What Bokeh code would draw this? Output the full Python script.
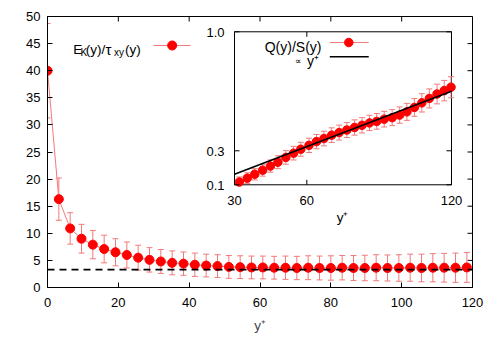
import math
import numpy as np
from bokeh.plotting import figure
from bokeh.models import Range1d, LogScale, FixedTicker, Span
from bokeh.core.properties import value
from bokeh.embed import file_html
from bokeh.resources import INLINE

FONT = "Liberation Sans"
RED = "#ff0000"
PINK = "#f27a7a"

# ---------------- data ----------------
main_x = [0.0, 3.2, 6.4, 9.6, 12.8, 16.0, 19.2, 22.4, 25.6, 28.8, 32.0, 35.2, 38.4,
          41.6, 44.8, 48.0, 51.2, 54.4, 57.6, 60.8, 64.0, 67.2, 70.4, 73.6, 76.8,
          80.0, 83.2, 86.4, 89.6, 92.8, 96.0, 99.2, 102.4, 105.6, 108.8, 112.0,
          115.2, 118.4]
main_y = [40.0, 16.3, 10.9, 9.0, 7.9, 7.1, 6.5, 6.0, 5.5, 5.1, 4.8, 4.55, 4.4, 4.2,
          4.05, 3.95, 3.8, 3.75, 3.7, 3.7, 3.65, 3.65, 3.6, 3.65, 3.6, 3.6, 3.65,
          3.6, 3.6, 3.65, 3.6, 3.6, 3.65, 3.6, 3.65, 3.65, 3.65, 3.7]
main_err = [8.7, 3.9, 2.9, 2.65, 2.6, 2.55, 2.5, 2.4, 2.3, 2.25, 2.2, 2.2, 2.15,
            2.15, 2.1, 2.1, 2.1, 2.1, 2.1, 2.1, 2.1, 2.15, 2.15, 2.2, 2.2, 2.25,
            2.25, 2.3, 2.35, 2.4, 2.4, 2.45, 2.5, 2.55, 2.6, 2.65, 2.7, 2.75]
dash_level = 3.3

inset_x = [28.8, 32.0, 35.3, 38.4, 41.7, 44.9, 48.0, 51.3, 54.5, 57.5, 60.9, 64.0,
           67.1, 70.3, 73.4, 76.6, 79.8, 82.9, 86.0, 89.0, 92.1, 95.4, 98.5, 101.5,
           104.6, 107.7, 110.8, 114.0, 117.0, 119.8]
inset_y = [0.091, 0.116, 0.139, 0.162, 0.186, 0.210, 0.233, 0.261, 0.286, 0.309,
           0.332, 0.354, 0.372, 0.392, 0.407, 0.422, 0.437, 0.450, 0.464, 0.473,
           0.486, 0.495, 0.510, 0.529, 0.555, 0.582, 0.608, 0.634, 0.654, 0.674]
inset_err = [0.028, 0.030, 0.032, 0.033, 0.035, 0.036, 0.038, 0.040, 0.040, 0.041,
             0.042, 0.042, 0.043, 0.043, 0.044, 0.044, 0.045, 0.045, 0.045, 0.046,
             0.046, 0.047, 0.048, 0.050, 0.052, 0.054, 0.056, 0.058, 0.060, 0.062]
fit_coef = 0.00542
fit_x = [30.0, 120.0]

x_ticks = [0, 20, 40, 60, 80, 100, 120]
y_ticks = [0, 5, 10, 15, 20, 25, 30, 35, 40, 45, 50]
inset_xticks = [30, 60, 120]
inset_xlabels = ["30", "60", "120"]
inset_yticks = [0.1, 0.3, 1.0]
inset_ylabels = ["0.1", "0.3", "1.0"]
inset_xlim = (30.0, 120.0)
inset_ylim = (0.1, 1.0)

main_label = ["E", "K", "(y)/", "\u03c4", "xy", "(y)"]
inset_label = "Q(y)/S(y)"

# ---------------- main figure ----------------
p = figure(width=498, height=348, x_range=Range1d(0, 120), y_range=Range1d(0, 50),
           output_backend="svg", toolbar_location=None,
           min_border_left=47, min_border_right=26, min_border_top=16,
           min_border_bottom=61)
p.grid.visible = False
p.outline_line_color = "black"
p.outline_line_width = 1
p.background_fill_color = "white"
p.border_fill_color = "white"

for ax in (p.xaxis[0], p.yaxis[0]):
    ax.major_tick_in = 5
    ax.major_tick_out = 0
    ax.minor_tick_line_color = None
    ax.axis_line_color = "black"
    ax.major_tick_line_color = "black"
    ax.major_label_text_font = FONT
    ax.major_label_text_color = "black"
    ax.major_label_text_font_size = "13px"

p.xaxis.ticker = FixedTicker(ticks=x_ticks)
p.yaxis.ticker = FixedTicker(ticks=y_ticks)
p.xaxis.major_label_standoff = 10
p.yaxis.major_label_standoff = 7
p.xaxis.axis_label = "y\u207a"
p.xaxis.axis_label_text_font = FONT
p.xaxis.axis_label_text_font_style = "normal"
p.xaxis.axis_label_text_font_size = "13.5px"
p.xaxis.axis_label_standoff = 8

# mirrored inward ticks on top and right edges
xmax, ymax = p.x_range.end, p.y_range.end
p.ray(x_ticks, [ymax] * len(x_ticks), length=5, angle=-math.pi / 2,
      length_units="screen", line_color="black", line_width=1)
p.ray([xmax] * len(y_ticks), y_ticks, length=5, angle=math.pi,
      length_units="screen", line_color="black", line_width=1)

# dashed level
p.add_layout(Span(location=dash_level, dimension="width", line_color="black",
                  line_width=1.6, line_dash="7 5"))

lo = [y - e for y, e in zip(main_y, main_err)]
hi = [y + e for y, e in zip(main_y, main_err)]
p.segment(main_x, lo, main_x, hi, line_color=PINK, line_width=1)
p.scatter(main_x, lo, marker="dash", size=6, line_color=PINK, line_width=1)
p.scatter(main_x, hi, marker="dash", size=6, line_color=PINK, line_width=1)
p.line(main_x, main_y, line_color=PINK, line_width=1)
p.scatter(main_x, main_y, size=9, fill_color=RED, line_color=RED)

# main legend (subscripts composed from pieces)
leg_x = [7.26, 9.32, 10.81, 16.38, 18.77, 21.88]
leg_y = [43.97, 43.36, 43.97, 43.97, 43.36, 43.97]
leg_fs = ["13.5px", "10px", "13.5px", "15px", "10px", "13.5px"]
for tx_, ty_, t_, fs_ in zip(leg_x, leg_y, main_label, leg_fs):
    p.text([tx_], [ty_], text=[t_], text_align="left", text_baseline="alphabetic",
           text_font=value(FONT), text_font_size=fs_, text_color="black")
p.line([29.9, 40.4], [44.65, 44.65], line_color=PINK, line_width=1)
p.scatter([35.2], [44.65], size=9, fill_color=RED, line_color=RED)

# ---------------- inset ----------------
tx = (52.80, 114.07)
ty = (18.95, 47.18)
p.quad(left=tx[0], right=tx[1], bottom=ty[0], top=ty[1], fill_color="white",
       line_color="black", line_width=1)

sub = p.subplot(x_source=Range1d(*inset_xlim), y_source=Range1d(*inset_ylim),
                x_scale=LogScale(), y_scale=LogScale(),
                x_target=Range1d(*tx), y_target=Range1d(*ty))


def clip_segments(xs, ys, xlim, ylim):
    lx0, lx1 = math.log10(xlim[0]), math.log10(xlim[1])
    ly0, ly1 = math.log10(ylim[0]), math.log10(ylim[1])
    out = []
    for i in range(len(xs) - 1):
        ax, ay = math.log10(xs[i]), math.log10(ys[i])
        bx, by = math.log10(xs[i + 1]), math.log10(ys[i + 1])
        dx, dy = bx - ax, by - ay
        t0, t1, ok = 0.0, 1.0, True
        for pp, q in ((-dx, ax - lx0), (dx, lx1 - ax), (-dy, ay - ly0), (dy, ly1 - ay)):
            if pp == 0:
                if q < 0:
                    ok = False
                    break
            else:
                t = q / pp
                if pp < 0:
                    t0 = max(t0, t)
                else:
                    t1 = min(t1, t)
        if ok and t0 <= t1:
            out.append((10 ** (ax + t0 * dx), 10 ** (ay + t0 * dy),
                        10 ** (ax + t1 * dx), 10 ** (ay + t1 * dy)))
    return out


ix = np.array(inset_x)
iy = np.array(inset_y)
ie = np.array(inset_err)
inside = (ix >= inset_xlim[0]) & (ix <= inset_xlim[1]) & (iy >= inset_ylim[0])
ilo_raw = iy - ie
ilo = np.maximum(ilo_raw, inset_ylim[0])
ihi = np.minimum(iy + ie, inset_ylim[1])

sub.segment(ix[inside], ilo[inside], ix[inside], ihi[inside], line_color=PINK, line_width=1)
cap_lo = inside & (ilo_raw >= inset_ylim[0])
sub.scatter(ix[cap_lo], ilo[cap_lo], marker="dash", size=6, line_color=PINK)
sub.scatter(ix[inside], ihi[inside], marker="dash", size=6, line_color=PINK)
segs = clip_segments(inset_x, inset_y, inset_xlim, inset_ylim)
sub.segment([s[0] for s in segs], [s[1] for s in segs], [s[2] for s in segs],
            [s[3] for s in segs], line_color=PINK, line_width=1)
sub.scatter(ix[inside], iy[inside], size=8.5, fill_color=RED, line_color=RED)

fit_y = [fit_coef * v for v in fit_x]
sub.line(fit_x, fit_y, line_color="black", line_width=1.6)

# inset ticks (inward)
n_y = len(inset_yticks)
n_x = len(inset_xticks)
sub.ray([inset_xlim[0]] * n_y, inset_yticks, length=5, angle=0, length_units="screen",
        line_color="black", line_width=1)
sub.ray([inset_xlim[1]] * n_y, inset_yticks, length=5, angle=math.pi, length_units="screen",
        line_color="black", line_width=1)
sub.ray(inset_xticks, [inset_ylim[0]] * n_x, length=5, angle=math.pi / 2,
        length_units="screen", line_color="black", line_width=1)
sub.ray(inset_xticks, [inset_ylim[1]] * n_x, length=5, angle=-math.pi / 2,
        length_units="screen", line_color="black", line_width=1)

sub.text([inset_xlim[0]] * n_y, inset_yticks, text=inset_ylabels, x_offset=-10,
         y_offset=1, text_align="right", text_baseline="middle",
         text_font=value(FONT), text_font_size="13px", text_color="black")
sub.text(inset_xticks, [inset_ylim[0]] * n_x, text=inset_xlabels, x_offset=0,
         y_offset=11, text_align="center", text_baseline="top",
         text_font=value(FONT), text_font_size="13px", text_color="black")

# inset x label and legend (main coordinates)
p.text([83.3], [13.0], text=["y\u207a"], text_align="center", text_baseline="alphabetic",
       text_font=value(FONT), text_font_size="13.5px", text_color="black")
p.text([77.36], [44.37], text=[inset_label], text_align="right",
       text_baseline="alphabetic", text_font=value(FONT), text_font_size="14px",
       text_color="black")
p.text([71.7], [41.8], text=["\u221d"], text_align="right", text_baseline="alphabetic",
       text_font=value(FONT), text_font_size="9px", text_color="black")
p.text([73.3], [41.73], text=["y\u207a"], text_align="left", text_baseline="alphabetic",
       text_font=value(FONT), text_font_size="14px", text_color="black")
p.line([79.7, 90.7], [45.2, 45.2], line_color=PINK, line_width=1)
p.scatter([85.07], [45.2], size=8.5, fill_color=RED, line_color=RED)
p.line([79.7, 90.7], [42.57, 42.57], line_color="black", line_width=1.6)

open("out.html", "w").write(file_html(p, INLINE))
